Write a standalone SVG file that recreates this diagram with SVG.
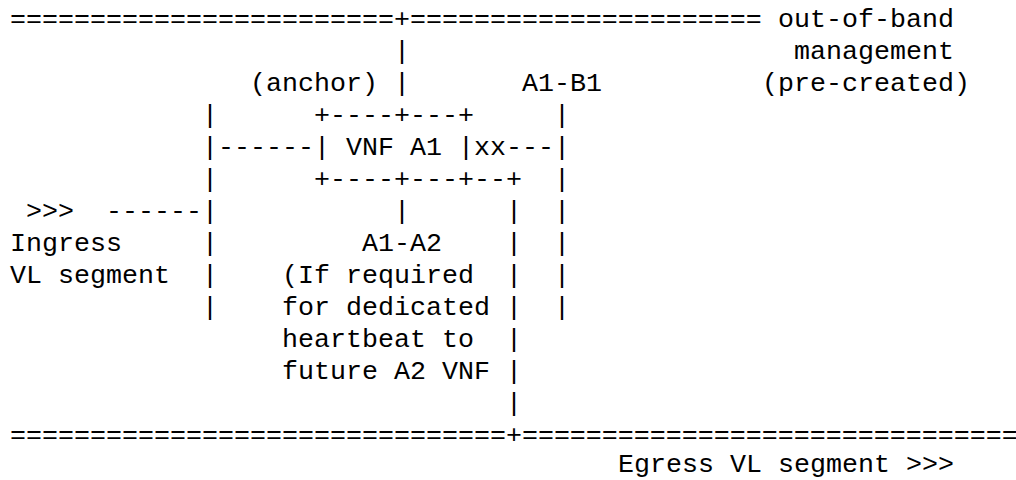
<svg xmlns="http://www.w3.org/2000/svg" width="1016" height="480" viewBox="0 0 1016 480">
<style>
text { font-family: "Liberation Mono", "Courier New", monospace; font-size: 26.667px; fill: #000; white-space: pre; }
</style>
<rect x="0" y="0" width="1016" height="480" fill="#fff"/>
<g id="oob-network">
<text x="10" y="27" xml:space="preserve">========================+======================</text>
<text x="778" y="27">out-of-band</text>
<text x="794" y="59">management</text>
<text x="762" y="91">(pre-created)</text>
</g>
<g id="egress-network">
<text x="10" y="443" xml:space="preserve">===============================+===============================</text>
<text x="618" y="472" xml:space="preserve">Egress VL segment &gt;&gt;&gt;</text>
</g>
<g id="ingress">
<text x="26" y="219">&gt;&gt;&gt;</text>
<text x="10" y="251">Ingress</text>
<text x="10" y="283" xml:space="preserve">VL segment</text>
</g>
<g id="vnf-a1">
<text x="314" y="123">+----+---+</text>
<text x="314" y="155" xml:space="preserve">| VNF A1 |</text>
<text x="314" y="187">+----+---+</text>
</g>
<g id="labels">
<text x="250" y="91">(anchor)</text>
<text x="522" y="91">A1-B1</text>
<text x="362" y="251">A1-A2</text>
<text x="282" y="283" xml:space="preserve">(If required</text>
<text x="282" y="315" xml:space="preserve">for dedicated</text>
<text x="282" y="347" xml:space="preserve">heartbeat to</text>
<text x="282" y="379" xml:space="preserve">future A2 VNF</text>
</g>
<g id="connectors">
<text x="394" y="59">|</text>
<text x="394" y="91">|</text>
<text x="202" y="123">|</text>
<text x="554" y="123">|</text>
<text x="202" y="155">|------</text>
<text x="474" y="155">xx---|</text>
<text x="202" y="187">|</text>
<text x="474" y="187">--+</text>
<text x="554" y="187">|</text>
<text x="106" y="219">------|</text>
<text x="394" y="219">|</text>
<text x="506" y="219">|</text>
<text x="554" y="219">|</text>
<text x="202" y="251">|</text>
<text x="506" y="251">|</text>
<text x="554" y="251">|</text>
<text x="202" y="283">|</text>
<text x="506" y="283">|</text>
<text x="554" y="283">|</text>
<text x="202" y="315">|</text>
<text x="506" y="315">|</text>
<text x="554" y="315">|</text>
<text x="506" y="347">|</text>
<text x="506" y="379">|</text>
<text x="506" y="411">|</text>
</g>
</svg>
